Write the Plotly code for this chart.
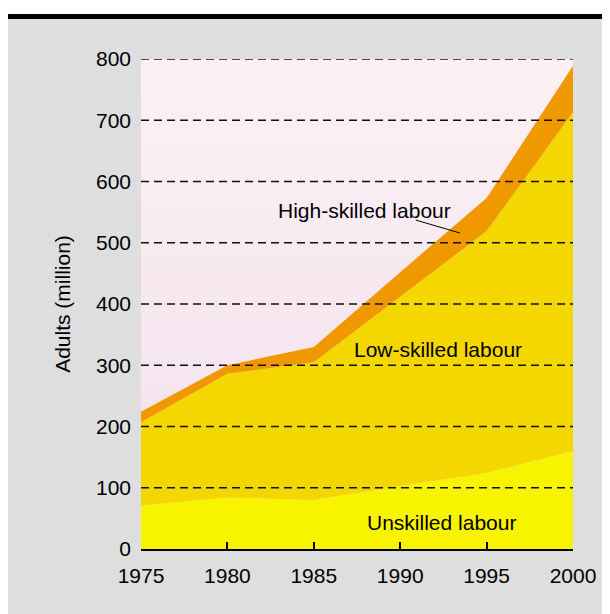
import plotly.graph_objects as go

# ---- data ----
years = [1975, 1980, 1985, 1990, 1995, 2000]
unskilled = [71, 84, 80, 103, 124, 160]
low_skilled = [136, 202, 225, 309, 395, 553]
high_skilled = [17, 14, 25, 40, 54, 76]
y_ticks = [0, 100, 200, 300, 400, 500, 600, 700, 800]
x_ticks = [1975, 1980, 1985, 1990, 1995, 2000]

FONT = "Liberation Sans, Arial, Helvetica, sans-serif"
FS = 21

fig = go.Figure()

# plot-area background gradient
fig.add_trace(go.Scatter(
    x=[x_ticks[0], x_ticks[-1]], y=[y_ticks[-1], y_ticks[-1]],
    fill="tozeroy", mode="none", showlegend=False, hoverinfo="skip",
    fillgradient=dict(type="vertical",
                      colorscale=[[0, "#f1dfeb"], [1, "#fdf1f5"]]),
))

series = [
    ("Unskilled labour", unskilled, "#f8f400"),
    ("Low-skilled labour", low_skilled, "#f5d700"),
    ("High-skilled labour", high_skilled, "#f09800"),
]
for name, vals, col in series:
    fig.add_trace(go.Scatter(
        x=years, y=vals, name=name, stackgroup="one", mode="none",
        fillcolor=col, line=dict(width=0), showlegend=False,
    ))

# figure geometry (figure sits at page offset 8,8)
W, H = 602, 606
L, R, T, B = 133, 37, 51, 65
PW, PH = W - L - R, H - T - B

def py(fig_y):
    return (H - B - fig_y) / PH

shapes = []
shapes.append(dict(type="rect", xref="paper", yref="paper", x0=-0.5, x1=1.3,
                   y0=py(6), y1=1.3, fillcolor="white",
                   line=dict(width=0), layer="below"))
shapes.append(dict(type="rect", xref="paper", yref="paper", x0=-0.5,
                   x1=1.3, y0=py(11), y1=py(6),
                   fillcolor="black", line=dict(width=0), layer="below"))
# dashed gridlines above the areas
for yv in y_ticks[1:]:
    shapes.append(dict(type="line", xref="paper", yref="y", x0=0, x1=1,
                       y0=yv, y1=yv, line=dict(color="#111", width=1.3,
                                                 dash="8px,5px"),
                       layer="above"))
# pointer for high-skilled label
shapes.append(dict(type="line", xref="x", yref="y", x0=1990.9, y0=537,
                   x1=1993.45, y1=516, line=dict(color="black", width=1),
                   layer="above"))

annotations = [
    dict(x=1987.95, y=552, text="High-skilled labour", showarrow=False,
         font=dict(size=FS, color="black", family=FONT)),
    dict(x=1992.2, y=326, text="Low-skilled labour", showarrow=False,
         font=dict(size=FS, color="black", family=FONT)),
    dict(x=1992.4, y=43, text="Unskilled labour", showarrow=False,
         font=dict(size=FS, color="black", family=FONT)),
]

fig.update_layout(
    width=W, height=H,
    margin=dict(l=L, r=R, t=T, b=B, autoexpand=False),
    paper_bgcolor="#dedede", plot_bgcolor="#dedede",
    font=dict(family=FONT, size=FS, color="black"),
    shapes=shapes, annotations=annotations,
    xaxis=dict(range=[1975, 2000], tickvals=x_ticks, showgrid=False,
               zeroline=False, showline=True, linecolor="black", linewidth=2,
               ticks="inside", ticklen=7, tickwidth=1.5, tickcolor="black",
               tickfont=dict(size=FS), ticklabelstandoff=7, fixedrange=True),
    yaxis=dict(range=[0, 800], tickvals=y_ticks, showgrid=False,
               zeroline=False, showline=False, ticks="",
               tickfont=dict(size=FS), ticklabelstandoff=9,
               title=dict(text="Adults (million)", font=dict(size=FS),
                          standoff=19), fixedrange=True),
)

fig.write_html("out.html")
